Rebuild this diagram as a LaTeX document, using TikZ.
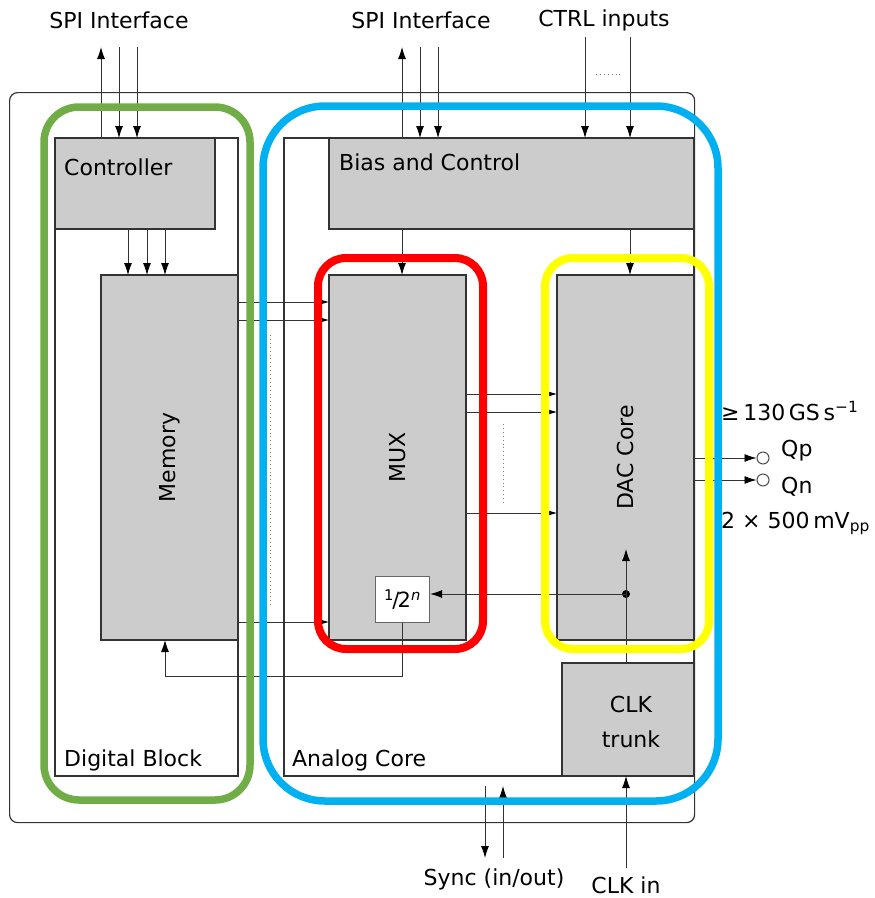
\documentclass[tikz,border=0pt]{standalone}
\usepackage{fontspec}
\setmainfont{DejaVu Sans}
\usetikzlibrary{arrows.meta,calc}
\definecolor{hlgreen}{HTML}{70AD47}
\definecolor{hlblue}{HTML}{00B0F0}
\definecolor{hlred}{HTML}{FF0000}
\definecolor{hlyellow}{HTML}{FFFF00}
\definecolor{boxgray}{HTML}{CCCCCC}
\definecolor{edge}{HTML}{333333}
\begin{document}
\begin{tikzpicture}[x=1pt,y=-1pt,
  font=\fontsize{22}{26}\selectfont,
  area/.style={draw=edge, line width=1.3pt, fill=white, anchor=north west, inner sep=0pt, outer sep=0pt},
  blk/.style={draw=edge, line width=1.3pt, fill=boxgray, anchor=north west, inner sep=0pt, outer sep=0pt},
  sig/.style={draw=black!80, line width=0.9pt, -{Latex[length=12pt,width=8pt,color=black]}},
  dotline/.style={draw=black!50, line width=0.9pt, dash pattern=on 0.9pt off 3pt},
  hl/.style={line width=7.5pt},
  lbl/.style={anchor=west, inner sep=0pt}
]
\useasboundingbox (0,0) rectangle (875,898);

% chip outline and areas
\node[draw=edge, line width=1.2pt, rounded corners=8pt, anchor=north west, inner sep=0pt,
      minimum width=685pt, minimum height=730pt] (chip) at (9,92) {};
\node[area, minimum width=183pt, minimum height=638pt] (dig) at (55,138) {};
\node[area, minimum width=410pt, minimum height=638pt] (ana) at (284,138) {};

% blocks
\node[blk, minimum width=160pt, minimum height=91pt] (ctrl) at (55,138) {};
\node[blk, minimum width=137pt, minimum height=365pt] (mem) at (101,275) {};
\node[blk, minimum width=365pt, minimum height=91pt] (bias) at (329,138) {};
\node[blk, minimum width=137pt, minimum height=365pt] (mux) at (329,275) {};
\node[blk, minimum width=137pt, minimum height=365pt] (dac) at (557,275) {};
\node[blk, minimum width=132pt, minimum height=113pt] (clk) at (562,663) {};
\node[draw=black!60, line width=1.1pt, fill=white, anchor=north west, inner sep=0pt,
      minimum width=54pt, minimum height=46pt] (div) at (375,576) {};
\node[font=\fontsize{21}{22}\selectfont] (divtext) at (div.center)
  {\textsuperscript{1}\kern-0.08em/\kern-0.08em2\textsuperscript{\itshape n}};

% labels inside blocks
\node[lbl] (ctrllbl) at (64,167) {Controller};
\node[lbl] (diglbl) at (64,760) {Digital Block};
\node[lbl] (biaslbl) at (339,162) {Bias and Control};
\node[lbl] (analbl) at (292,760) {Analog Core};
\node[rotate=90] (memlbl) at (mem.center) {Memory};
\node[rotate=90] (muxlbl) at (mux.center) {MUX};
\node[rotate=90] (daclbl) at (dac.center) {DAC Core};
\node[align=center, font=\fontsize{22}{35}\selectfont] (clklbl) at (631,722) {CLK\\trunk};

% outer labels
\node (spi1) at (119,20) {SPI Interface};
\node (spi2) at (421,20) {SPI Interface};
\node (ctrlin) at (604,20) {CTRL inputs};
\node (synclbl) at (494,879) {Sync (in/out)};
\node (clkinlbl) at (626,885) {CLK in};
\node[lbl] (rate) at (721,411) {≥\,130\,GS\,s\textsuperscript{−1}};
\node[lbl] (qplbl) at (781,451) {Qp};
\node[lbl] (qnlbl) at (781,487) {Qn};
\node[lbl] (swing) at (721,523) {2 × 500\,mV\textsubscript{pp}};

% coordinates
\coordinate (a1) at (101,47);
\coordinate (a2) at (119,47);
\coordinate (a3) at (137,47);
\coordinate (c1) at (128,0);
\coordinate (c2) at (147,0);
\coordinate (c3) at (165,0);
\coordinate (b1) at (402,47);
\coordinate (b2) at (420,47);
\coordinate (b3) at (438,47);
\coordinate (k1) at (585,37);
\coordinate (k2) at (630,37);
\coordinate (r1) at (0,302);
\coordinate (r2) at (0,320);
\coordinate (r3) at (0,622);
\coordinate (d1) at (0,394);
\coordinate (d2) at (0,412);
\coordinate (d3) at (0,513);
\coordinate (clktip) at (626,549);
\coordinate (fb) at (165,676);
\coordinate (clkin) at (626,868);
\coordinate (sy1) at (485,786);
\coordinate (sy1e) at (485,858);
\coordinate (sy2) at (503,858);
\coordinate (sy2e) at (503,786);

% SPI left
\draw[sig] (ctrl.north -| a1) -- (a1);
\draw[sig] (a2) -- (ctrl.north -| a2);
\draw[sig] (a3) -- (ctrl.north -| a3);
% controller to memory
\draw[sig] (ctrl.south -| c1) -- (mem.north -| c1);
\draw[sig] (ctrl.south -| c2) -- (mem.north -| c2);
\draw[sig] (ctrl.south -| c3) -- (mem.north -| c3);
% SPI middle
\draw[sig] (bias.north -| b1) -- (b1);
\draw[sig] (b2) -- (bias.north -| b2);
\draw[sig] (b3) -- (bias.north -| b3);
% CTRL inputs
\draw[sig] (k1) -- (bias.north -| k1);
\draw[sig] (k2) -- (bias.north -| k2);
\draw[dotline] (596,74) -- (622,74);
% bias to mux / dac
\draw[sig] (bias.south -| b1) -- (mux.north -| b1);
\draw[sig] (bias.south -| k2) -- (dac.north -| k2);
% memory to mux
\draw[sig] (mem.east |- r1) -- (mux.west |- r1);
\draw[sig] (mem.east |- r2) -- (mux.west |- r2);
\draw[sig] (mem.east |- r3) -- (mux.west |- r3);
\draw[dotline] (270,335) -- (270,606);
% mux to dac
\draw[sig] (mux.east |- d1) -- (dac.west |- d1);
\draw[sig] (mux.east |- d2) -- (dac.west |- d2);
\draw[sig] (mux.east |- d3) -- (dac.west |- d3);
\draw[dotline] (503,424) -- (503,504);
% clock distribution
\node[circle, fill=black, inner sep=0pt, minimum size=8pt] (dot) at (626,594) {};
\draw[sig] (clk.north -| clktip) -- (clktip);
\draw[sig] (dot.center) -- (div.east |- dot);
\draw[sig] (div.south) |- (fb) -- (mem.south -| fb);
\draw[sig] (clkin) -- (clk.south -| clkin);
% sync
\draw[sig] (sy1) -- (sy1e);
\draw[sig] (sy2) -- (sy2e);
% outputs
\node[circle, draw=black!70, line width=1pt, fill=white, inner sep=0pt, minimum size=12pt] (qp) at (763,458) {};
\node[circle, draw=black!70, line width=1pt, fill=white, inner sep=0pt, minimum size=12pt] (qn) at (763,480) {};
\draw[sig] (dac.east |- qp) -- (qp.west);
\draw[sig] (dac.east |- qn) -- (qn.west);

% highlight frames
\draw[hl, hlgreen, rounded corners=35pt] (44,107) rectangle (250,800);
\draw[hl, hlblue, rounded corners=62pt] (263,106) rectangle (718,801);
\draw[hl, hlred, line width=8pt, rounded corners=28pt] (318,258) rectangle (483,649);
\draw[hl, hlyellow, line width=8pt, rounded corners=28pt] (545,258) rectangle (709,649);
\end{tikzpicture}
\end{document}
